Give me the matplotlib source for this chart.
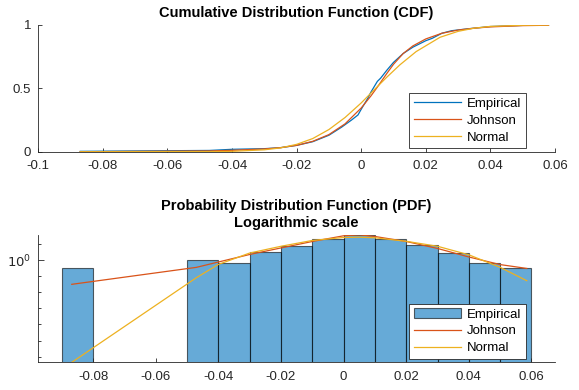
import numpy as np
import matplotlib.pyplot as plt
from matplotlib.ticker import FixedLocator, NullFormatter

plt.rcParams['font.family'] = ['Liberation Sans', 'DejaVu Sans']

# --- CDF curves ---
emp_x = [-0.087, -0.047, -0.040, -0.030, -0.025, -0.020, -0.015, -0.010, -0.006,
         -0.003, -0.001, 0.000, 0.002, 0.003, 0.005, 0.006, 0.008, 0.010, 0.013,
         0.016, 0.020, 0.022, 0.025, 0.028, 0.033, 0.040, 0.050, 0.058]
emp_f = [0.003, 0.010, 0.019, 0.024, 0.032, 0.050, 0.079, 0.130, 0.195,
         0.250, 0.290, 0.335, 0.420, 0.470, 0.555, 0.580, 0.645, 0.705, 0.775,
         0.825, 0.876, 0.895, 0.935, 0.955, 0.970, 0.988, 0.997, 1.000]

john_x = [-0.087, -0.047, -0.040, -0.030, -0.025, -0.020, -0.015, -0.010, -0.005,
          0.000, 0.003, 0.005, 0.008, 0.010, 0.013, 0.016, 0.020, 0.025, 0.030,
          0.035, 0.040, 0.050, 0.058]
john_f = [0.000, 0.006, 0.011, 0.022, 0.032, 0.050, 0.082, 0.135, 0.220,
          0.345, 0.440, 0.510, 0.620, 0.690, 0.775, 0.835, 0.890, 0.935, 0.960,
          0.975, 0.985, 0.995, 0.998]

norm_x = [-0.087, -0.047, -0.040, -0.030, -0.025, -0.020, -0.015, -0.010, -0.005,
          0.000, 0.004, 0.008, 0.012, 0.017, 0.0244, 0.030, 0.035, 0.040, 0.050, 0.058]
norm_f = [0.000, 0.001, 0.003, 0.015, 0.030, 0.058, 0.104, 0.175, 0.270,
          0.385, 0.488, 0.590, 0.686, 0.790, 0.903, 0.950, 0.975, 0.989, 0.998, 1.000]

# --- histogram (counts per 0.01 bin) ---
bin_left = [-0.09, -0.08, -0.07, -0.06, -0.05, -0.04, -0.03, -0.02, -0.01,
            0.00, 0.01, 0.02, 0.03, 0.04, 0.05]
bin_counts = [1, 0, 0, 0, 3, 2, 9, 24, 61, 109, 61, 26, 8, 2, 1]
bin_width = 0.01
n_obs = 307

# --- fitted PDFs ---
pdf_x = [-0.0868, -0.047, -0.040, -0.030, -0.020, -0.010, 0.000, 0.005, 0.010,
         0.020, 0.030, 0.040, 0.050, 0.0585]
john_pdf = [0.031, 0.35, 0.75, 2.2, 5.6, 14.1, 31.8, 36.7, 28.8,
            14.1, 5.2, 1.54, 0.52, 0.30]
norm_pdf = [4.5e-7, 0.08, 0.53, 2.7, 7.1, 16.3, 25.0, 26.1, 23.9,
            14.5, 7.1, 2.1, 0.35, 0.052]

blue = '#0072BD'
orange = '#D95319'
yellow = '#EDB120'
dark = '#262626'

fig = plt.figure(figsize=(5.79, 3.90), dpi=100)

def style(ax):
    for s in ['top', 'right']:
        ax.spines[s].set_visible(False)
    for s in ['left', 'bottom']:
        ax.spines[s].set_color(dark)
        ax.spines[s].set_linewidth(0.6)
    ax.tick_params(direction='in', length=3, width=0.6, colors=dark,
                   labelsize=9.5)
    ax.tick_params(axis='x', pad=6)
    ax.tick_params(axis='y', pad=5)
    ax.tick_params(which='minor', direction='in', length=2, width=0.6, colors=dark)

def add_legend(ax, handles, labels):
    leg = ax.legend(handles, labels, loc='lower right', bbox_to_anchor=(0.943, 0.027),
                    borderaxespad=0, fontsize=9.5, handlelength=3.6, handletextpad=0.4,
                    borderpad=0.35, labelspacing=0.35, fancybox=False, framealpha=1)
    leg.get_frame().set_edgecolor(dark)
    leg.get_frame().set_linewidth(0.6)

# CDF
ax1 = fig.add_axes([0.0661, 0.611, 0.8924, 0.3249])
l1, = ax1.plot(emp_x, emp_f, color=blue, lw=0.9)
l2, = ax1.plot(john_x, john_f, color=orange, lw=0.9)
l3, = ax1.plot(norm_x, norm_f, color=yellow, lw=0.9)
ax1.set_xlim(-0.1, 0.06)
ax1.set_ylim(0, 1)
ax1.set_xticks([-0.1, -0.08, -0.06, -0.04, -0.02, 0, 0.02, 0.04, 0.06])
ax1.set_xticklabels(['-0.1', '-0.08', '-0.06', '-0.04', '-0.02', '0', '0.02', '0.04', '0.06'])
ax1.set_yticks([0, 0.5, 1])
ax1.set_yticklabels(['0', '0.5', '1'])
style(ax1)
ax1.set_title('Cumulative Distribution Function (CDF)', fontsize=10.5,
              fontweight='bold', pad=6)
add_legend(ax1, [l1, l2, l3], ['Empirical', 'Johnson', 'Normal'])

# PDF
ax2 = fig.add_axes([0.0661, 0.0710, 0.8924, 0.3264])
counts = np.array(bin_counts, dtype=float)
heights = counts / (n_obs * bin_width)
keep = counts > 0
bars = ax2.bar(np.array(bin_left)[keep], heights[keep], width=bin_width, align='edge',
               bottom=1e-12, color=blue, alpha=0.6, edgecolor='black', linewidth=0.8)
j2, = ax2.plot(pdf_x, john_pdf, color=orange, lw=0.9)
n2, = ax2.plot(pdf_x, norm_pdf, color=yellow, lw=0.9)
ax2.set_yscale('log')
ax2.set_xlim(-0.0975, 0.0675)
ax2.set_ylim(min(norm_pdf), heights.max())
ax2.set_xticks([-0.08, -0.06, -0.04, -0.02, 0, 0.02, 0.04, 0.06])
ax2.set_xticklabels(['-0.08', '-0.06', '-0.04', '-0.02', '0', '0.02', '0.04', '0.06'])
ax2.yaxis.set_major_locator(FixedLocator([1.0]))
ax2.set_yticklabels(['$10^{0}$'])
ax2.yaxis.set_minor_locator(FixedLocator([1e-6, 1e-5, 1e-4, 1e-3, 1e-2, 1e-1, 10]))
ax2.yaxis.set_minor_formatter(NullFormatter())
style(ax2)
ax2.tick_params(axis='y', which='major', length=4)
ax2.set_title('Probability Distribution Function (PDF)\nLogarithmic scale',
              fontsize=10.5, fontweight='bold', pad=6, linespacing=1.25)
add_legend(ax2, [bars, j2, n2], ['Empirical', 'Johnson', 'Normal'])

fig.savefig('out.png', dpi=100)
